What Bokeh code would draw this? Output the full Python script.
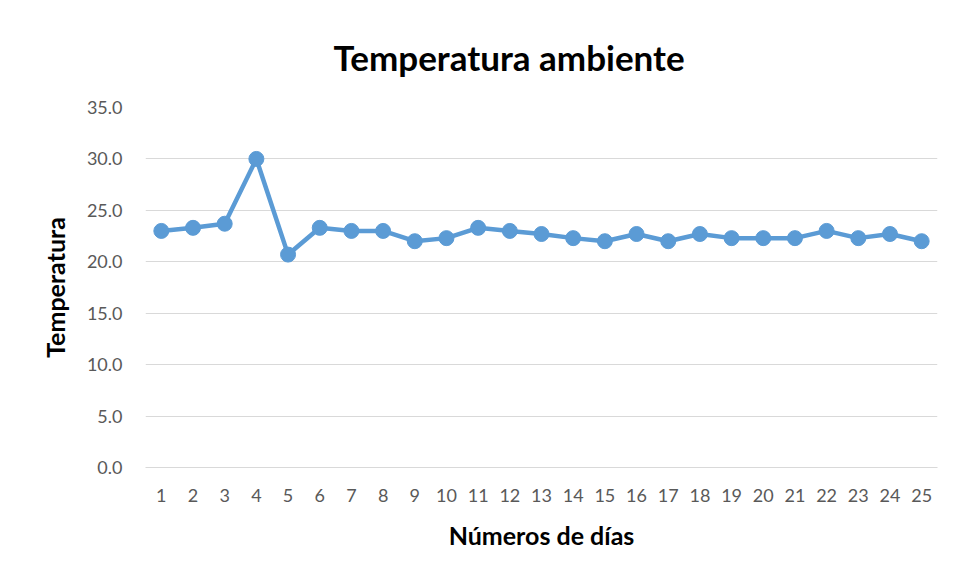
from bokeh.plotting import figure
from bokeh.models import FactorRange, Range1d, FixedTicker, NumeralTickFormatter, Title
from bokeh.embed import file_html
from bokeh.resources import INLINE

days = [str(i) for i in range(1, 26)]
temperatura = [23.0, 23.3, 23.7, 30.0, 20.7, 23.3, 23.0, 23.0, 22.0, 22.3,
               23.3, 23.0, 22.7, 22.3, 22.0, 22.7, 22.0, 22.7, 22.3, 22.3,
               22.3, 23.0, 22.3, 22.7, 22.0]
y_ticks = [0, 5, 10, 15, 20, 25, 30, 35]

FONT = "Lato"
GRAY = "#595959"

p = figure(width=950, height=571, x_range=FactorRange(*days), y_range=Range1d(0, 35),
           output_backend="svg", toolbar_location=None,
           min_border_left=145, min_border_right=13, min_border_top=107, min_border_bottom=104)
p.outline_line_color = None
p.border_fill_color = "white"
p.background_fill_color = "white"

p.add_layout(Title(text="Temperatura ambiente", align="left", text_font=FONT,
                   text_font_size="35px", text_font_style="bold", text_color="black",
                   offset=188, standoff=60), "above")

p.line(days, temperatura, line_color="#5b9bd5", line_width=4.5)
p.scatter(days, temperatura, size=15, fill_color="#5b9bd5", line_color="#5b9bd5")

p.xgrid.grid_line_color = None
p.ygrid.grid_line_color = "#d9d9d9"
p.ygrid.grid_line_width = 1

p.yaxis.ticker = FixedTicker(ticks=y_ticks)
p.yaxis.formatter = NumeralTickFormatter(format="0.0")
p.yaxis.axis_line_color = None
p.yaxis.major_tick_line_color = None
p.yaxis.minor_tick_line_color = None
p.yaxis.major_label_text_font = FONT
p.yaxis.major_label_text_font_size = "18px"
p.yaxis.major_label_text_color = GRAY
p.yaxis.major_label_standoff = 17
p.yaxis.axis_label = "Temperatura"
p.yaxis.axis_label_text_font = FONT
p.yaxis.axis_label_text_font_size = "25px"
p.yaxis.axis_label_text_font_style = "bold"
p.yaxis.axis_label_text_color = "black"
p.yaxis.axis_label_standoff = 14

p.xaxis.axis_line_color = "#d9d9d9"
p.xaxis.major_tick_line_color = None
p.xaxis.minor_tick_line_color = None
p.xaxis.major_label_text_font = FONT
p.xaxis.major_label_text_font_size = "18px"
p.xaxis.major_label_text_color = GRAY
p.xaxis.major_label_standoff = 15
p.xaxis.axis_label = "Números de días"
p.xaxis.axis_label_text_font = FONT
p.xaxis.axis_label_text_font_size = "25px"
p.xaxis.axis_label_text_font_style = "bold"
p.xaxis.axis_label_text_color = "black"
p.xaxis.axis_label_standoff = 15

open("out.html", "w").write(file_html(p, INLINE))
